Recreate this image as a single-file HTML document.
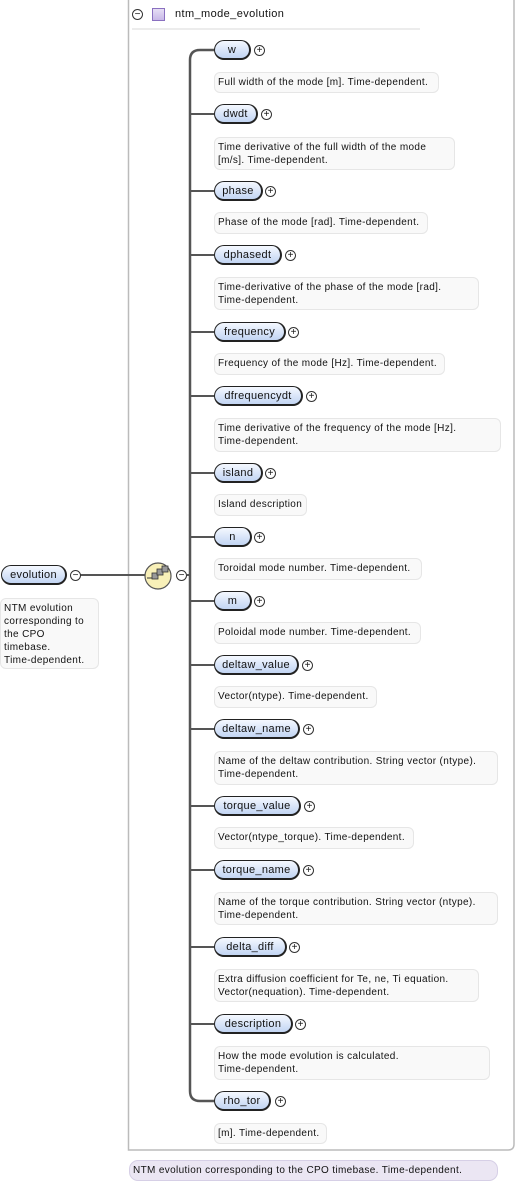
<!DOCTYPE html>
<html><head><meta charset="utf-8"><style>
body{margin:0;width:516px;height:1184px;position:relative;background:#fff;font-family:"Liberation Sans","DejaVu Sans",sans-serif;font-size:10px;color:#111;overflow:hidden}
.p{position:absolute;height:20px;border:1px solid #222;border-right-width:2px;border-bottom-width:2px;border-radius:10px;background:linear-gradient(#f4f8ff,#c2d5f3);box-sizing:border-box;line-height:18px;text-align:center;letter-spacing:.3px;font-size:11px}
.d{position:absolute;background:#f9f9f9;border:1px solid #e6e6e6;border-radius:6px;padding:3px 3px 2px 3px;line-height:13px;letter-spacing:.35px;box-sizing:border-box;white-space:nowrap}
.pl{position:absolute;width:11px;height:11px;border:1px solid #333;border-radius:50%;box-sizing:border-box;font-size:10px;line-height:9px;text-align:center;background:#fff}
</style></head><body>
<svg width="516" height="1184" style="position:absolute;left:0;top:0">
<path d="M128.5 0 V1150 H508 Q514 1150 514 1144 V0" fill="none" stroke="#bbb" stroke-width="1.5"/>
<line x1="132" y1="29" x2="420" y2="29" stroke="#ececec" stroke-width="2"/>
<path d="M214 50 H200 Q190 50 190 60 V1091 Q190 1101 200 1101 H214" fill="none" stroke="#555" stroke-width="2.5"/>
<g stroke="#555" stroke-width="2">
<line x1="190" y1="114" x2="214" y2="114"/><line x1="190" y1="191" x2="214" y2="191"/><line x1="190" y1="255" x2="214" y2="255"/><line x1="190" y1="332" x2="214" y2="332"/><line x1="190" y1="396" x2="214" y2="396"/><line x1="190" y1="473" x2="214" y2="473"/><line x1="190" y1="537" x2="214" y2="537"/><line x1="190" y1="601" x2="214" y2="601"/><line x1="190" y1="665" x2="214" y2="665"/><line x1="190" y1="729" x2="214" y2="729"/><line x1="190" y1="806" x2="214" y2="806"/><line x1="190" y1="870" x2="214" y2="870"/><line x1="190" y1="947" x2="214" y2="947"/><line x1="190" y1="1024" x2="214" y2="1024"/>
<line x1="80" y1="575" x2="146" y2="575"/><line x1="187" y1="575" x2="190" y2="575"/>
</g>
<circle cx="158" cy="576" r="13" fill="#f8f0b8" stroke="#555" stroke-width="1.2"/>
<rect x="152" y="573" width="6" height="6" fill="#999" stroke="#333" stroke-width=".8"/>
<rect x="157" y="569" width="6" height="6" fill="#999" stroke="#333" stroke-width=".8"/>
<rect x="162" y="566" width="6" height="6" fill="#999" stroke="#333" stroke-width=".8"/>
<line x1="147" y1="578" x2="152" y2="578" stroke="#333"/>
</svg>
<div class="pl" style="left:132px;top:9px">−</div>
<div style="position:absolute;left:152px;top:8px;width:11px;height:11px;border:1px solid #8a70c0;background:linear-gradient(#e6def5,#c8b8e8)"></div>
<div style="position:absolute;left:175px;top:8px;font-size:11px;letter-spacing:.4px">ntm_mode_evolution</div>

<div class="p" style="left:1px;top:565px;width:66px">evolution</div>
<div class="pl" style="left:70px;top:570px">−</div>
<div class="d" style="left:0;top:598px;width:99px;height:71px">NTM evolution<br>corresponding to<br>the CPO<br>timebase.<br>Time-dependent.</div>
<div class="pl" style="left:176px;top:570px">−</div>

<div class="p" style="left:214px;top:40px;width:37px">w</div><div class="pl" style="left:254px;top:45px">+</div>
<div class="d" style="left:214px;top:72px;width:225px;height:21px">Full width of the mode [m]. Time-dependent.</div>
<div class="p" style="left:214px;top:104px;width:44px">dwdt</div><div class="pl" style="left:261px;top:109px">+</div>
<div class="d" style="left:214px;top:137px;width:241px;height:33px">Time derivative of the full width of the mode<br>[m/s]. Time-dependent.</div>
<div class="p" style="left:214px;top:181px;width:49px">phase</div><div class="pl" style="left:265px;top:186px">+</div>
<div class="d" style="left:214px;top:212px;width:214px;height:22px">Phase of the mode [rad]. Time-dependent.</div>
<div class="p" style="left:214px;top:245px;width:68px">dphasedt</div><div class="pl" style="left:285px;top:250px">+</div>
<div class="d" style="left:214px;top:277px;width:265px;height:33px">Time-derivative of the phase of the mode [rad].<br>Time-dependent.</div>
<div class="p" style="left:214px;top:322px;width:72px">frequency</div><div class="pl" style="left:288px;top:327px">+</div>
<div class="d" style="left:214px;top:353px;width:231px;height:22px">Frequency of the mode [Hz]. Time-dependent.</div>
<div class="p" style="left:214px;top:386px;width:89px">dfrequencydt</div><div class="pl" style="left:306px;top:391px">+</div>
<div class="d" style="left:214px;top:418px;width:287px;height:34px">Time derivative of the frequency of the mode [Hz].<br>Time-dependent.</div>
<div class="p" style="left:214px;top:463px;width:49px">island</div><div class="pl" style="left:265px;top:468px">+</div>
<div class="d" style="left:214px;top:494px;width:93px;height:22px">Island description</div>
<div class="p" style="left:214px;top:527px;width:38px">n</div><div class="pl" style="left:254px;top:532px">+</div>
<div class="d" style="left:214px;top:558px;width:208px;height:22px">Toroidal mode number. Time-dependent.</div>
<div class="p" style="left:214px;top:591px;width:38px">m</div><div class="pl" style="left:254px;top:596px">+</div>
<div class="d" style="left:214px;top:622px;width:207px;height:22px">Poloidal mode number. Time-dependent.</div>
<div class="p" style="left:214px;top:655px;width:85px">deltaw_value</div><div class="pl" style="left:302px;top:660px">+</div>
<div class="d" style="left:214px;top:686px;width:163px;height:22px">Vector(ntype). Time-dependent.</div>
<div class="p" style="left:214px;top:719px;width:86px">deltaw_name</div><div class="pl" style="left:303px;top:724px">+</div>
<div class="d" style="left:214px;top:751px;width:284px;height:34px">Name of the deltaw contribution. String vector (ntype).<br>Time-dependent.</div>
<div class="p" style="left:214px;top:796px;width:87px">torque_value</div><div class="pl" style="left:304px;top:801px">+</div>
<div class="d" style="left:214px;top:827px;width:200px;height:22px">Vector(ntype_torque). Time-dependent.</div>
<div class="p" style="left:214px;top:860px;width:86px">torque_name</div><div class="pl" style="left:303px;top:865px">+</div>
<div class="d" style="left:214px;top:892px;width:284px;height:33px">Name of the torque contribution. String vector (ntype).<br>Time-dependent.</div>
<div class="p" style="left:214px;top:937px;width:73px">delta_diff</div><div class="pl" style="left:289px;top:942px">+</div>
<div class="d" style="left:214px;top:969px;width:265px;height:33px">Extra diffusion coefficient for Te, ne, Ti equation.<br>Vector(nequation). Time-dependent.</div>
<div class="p" style="left:214px;top:1014px;width:79px">description</div><div class="pl" style="left:295px;top:1019px">+</div>
<div class="d" style="left:214px;top:1046px;width:276px;height:34px">How the mode evolution is calculated.<br>Time-dependent.</div>
<div class="p" style="left:214px;top:1091px;width:57px">rho_tor</div><div class="pl" style="left:275px;top:1096px">+</div>
<div class="d" style="left:214px;top:1123px;width:113px;height:21px">[m]. Time-dependent.</div>

<div class="d" style="left:129px;top:1160px;width:369px;height:21px;background:#ebe6f3;border-color:#d6cfe6;border-radius:9px">NTM evolution corresponding to the CPO timebase. Time-dependent.</div>
</body></html>
